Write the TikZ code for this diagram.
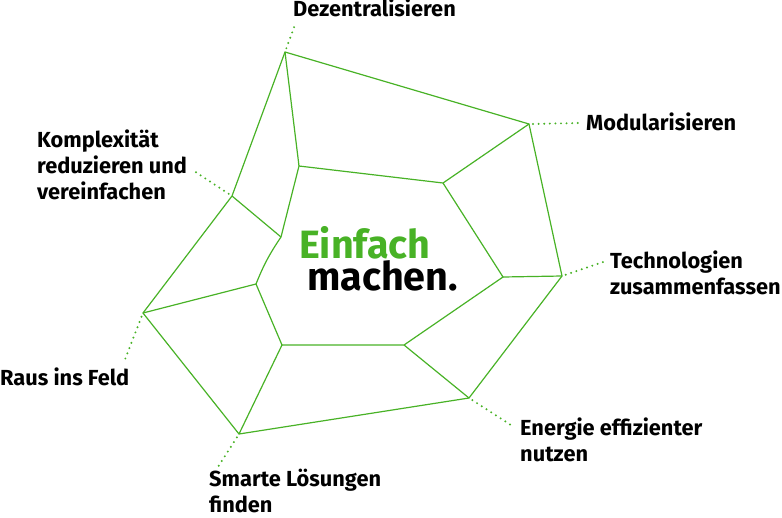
\documentclass[tikz,border=0pt]{standalone}
\usepackage{fontspec}
\setmainfont{Fira Sans}
\definecolor{leaf}{RGB}{72,178,38}
\tikzset{
  web/.style={draw=leaf, line width=1.2pt, line join=miter},
  leader/.style={draw=leaf, line width=2.2pt, line cap=round, dash pattern=on 0pt off 5.6pt, shorten <=4pt},
  tag/.style={font=\fontsize{21.8}{26}\selectfont\bfseries, align=left, inner sep=0pt, anchor=base west},
  motto/.style={font=\fontsize{39.5}{28}\selectfont\bfseries, align=left, inner sep=0pt, anchor=base west},
}
\begin{document}
\begin{tikzpicture}[x=1pt,y=-1pt]
\useasboundingbox (0,0) rectangle (782,517);
% outer ring
\coordinate (oDez) at (285,52);
\coordinate (oMod) at (529,124);
\coordinate (oTec) at (562,276);
\coordinate (oEne) at (469,398);
\coordinate (oSma) at (239,434);
\coordinate (oRau) at (143,313);
\coordinate (oKom) at (232,196);
% inner ring
\coordinate (iDez) at (299,166);
\coordinate (iMod) at (443,183);
\coordinate (iTec) at (503,277);
\coordinate (iEne) at (404,345);
\coordinate (iSma) at (282,345);
\coordinate (iRau) at (256,284);
\coordinate (iKom) at (281,237);
\draw[web] (oDez) -- (oMod) -- (oTec) -- (oEne) -- (oSma) -- (oRau) -- (oKom) -- cycle;
\draw[web] (iDez) -- (iMod) -- (iTec) -- (iEne) -- (iSma) -- (iRau) to[bend left=6] (iKom) -- cycle;
\foreach \v in {Dez,Mod,Tec,Ene,Sma,Rau,Kom}
  \draw[web] (o\v) -- (i\v);
% labels (anchored on the last line)
\node[tag] (tDez) at (293,16) {Dezentralisieren};
\node[tag] (tMod) at (586,130) {Modularisieren};
\node[tag] (tTec) at (610,294) {Technologien\\zusammenfassen};
\node[tag] (tEne) at (520,461) {Energie effizienter\\nutzen};
\node[tag] (tSma) at (209,512) {Smarte Lösungen\\finden};
\node[tag] (tRau) at (0,385) {Raus ins Feld};
\node[tag] (tKom) at (37,199) {Komplexität\\reduzieren und\\vereinfachen};
% leader ends
\coordinate (eDez) at (296,22);
\coordinate (eMod) at (580,123);
\coordinate (eTec) at (603,262);
\coordinate (eEne) at (514,427);
\coordinate (eSma) at (218,467);
\coordinate (eRau) at (124,362);
\coordinate (eKom) at (194,171);
\foreach \v in {Dez,Mod,Tec,Ene,Sma,Rau,Kom}
  \draw[leader] (o\v) -- (e\v);
% centre
\node[motto] (motto) at (299,290) {\textcolor{leaf}{Einfach}\\\hspace*{8pt}machen.};
\end{tikzpicture}
\end{document}
